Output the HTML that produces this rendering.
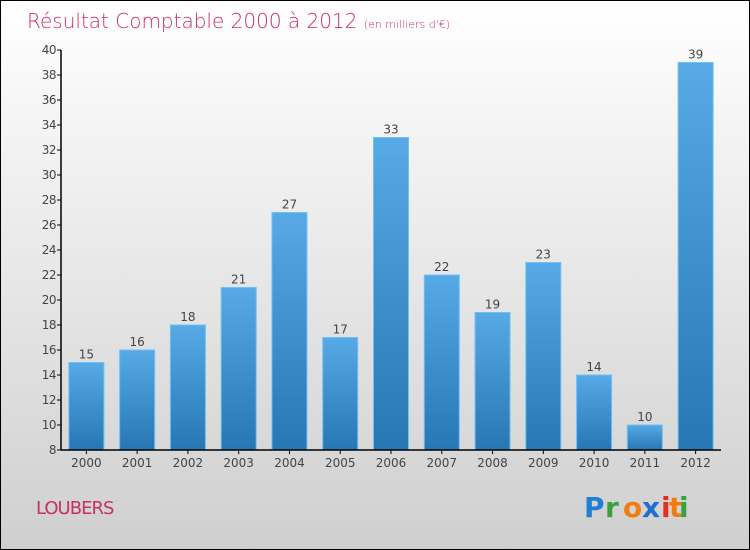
<!DOCTYPE html>
<html><head><meta charset="utf-8"><style>
body{margin:0}
#c{width:748px;height:548px;border:1px solid #000;background:linear-gradient(#ffffff,#cfcfcf);position:relative;font-family:"DejaVu Sans","Liberation Sans",sans-serif;overflow:hidden}
</style></head><body>
<div id="c">
<svg id="s" width="748" height="548">
<defs><linearGradient id="g" x1="0" y1="0" x2="0" y2="1"><stop offset="0" stop-color="#57aae6"/><stop offset="1" stop-color="#2677b4"/></linearGradient></defs>
<text x="26" y="27" font-size="20" fill="#c8305f" font-family="DejaVu Sans" font-weight="200">Résultat Comptable 2000 à 2012 <tspan font-size="11">(en milliers d'€)</tspan></text>
<text x="35" y="513" font-size="18" fill="#c8305f" letter-spacing="-1">LOUBERS</text>
<g font-size="28" font-family="DejaVu Sans" font-weight="bold"><text x="583" y="516" fill="#1f7fd6">P</text><text x="604" y="516" fill="#3aa040">r</text><text x="622" y="516" fill="#f07d10">o</text><text x="641" y="516" fill="#1f6fd0">x</text><text x="660" y="516" fill="#e03020">i</text><text x="668" y="516" fill="#f07d10">t</text><text x="678" y="516" fill="#3aa040">i</text></g>
<g id="plot"></g>
</svg></div>
<script>
const categories=["2000","2001","2002","2003","2004","2005","2006","2007","2008","2009","2010","2011","2012"];
const values=[15,16,18,21,27,17,33,22,19,23,14,10,39];
const yTicks=[8,10,12,14,16,18,20,22,24,26,28,30,32,34,36,38,40];
const ns="http://www.w3.org/2000/svg";
const x0=60,x1=720,yMin=8,yMax=40,yB=449,yT=49;
const y=v=>yB-(v-yMin)/(yMax-yMin)*(yB-yT);
const bw=(x1-x0)/categories.length;
const g=document.getElementById('plot');
function mk(t,a){const e=document.createElementNS(ns,t);for(const k in a)e.setAttribute(k,a[k]);g.appendChild(e);return e;}
categories.forEach((c,i)=>{
 const cx=x0+(i+0.5)*bw,v=values[i];
 const r=mk('rect',{x:cx-17.5,y:y(v),width:35,height:yB-y(v),fill:'url(#g)',stroke:'#6fc0f5','stroke-width':1});
 
 
 const t=mk('text',{x:cx,y:y(v)-4,'text-anchor':'middle','font-size':12,fill:'#444'});t.textContent=v;
 
 
 const l=mk('text',{x:cx,y:yB+17,'text-anchor':'middle','font-size':12,fill:'#444'});l.textContent=c;
 
 
 mk('line',{x1:cx,x2:cx,y1:yB,y2:yB+4,stroke:'#000'});
});
yTicks.forEach(v=>{
 mk('line',{x1:x0-4,x2:x0,y1:y(v),y2:y(v),stroke:'#000'});
 const t=mk('text',{x:x0-5,y:y(v)+4,'text-anchor':'end','font-size':12,fill:'#444','letter-spacing':-0.5});t.textContent=v;
 
 
});
const ya=mk('line',{x1:x0,x2:x0,y1:yT,y2:yB,stroke:'#000','stroke-width':1.5});


const xa=mk('line',{x1:x0,x2:x1,y1:yB,y2:yB,stroke:'#000','stroke-width':1.5});


</script>
</body></html>
